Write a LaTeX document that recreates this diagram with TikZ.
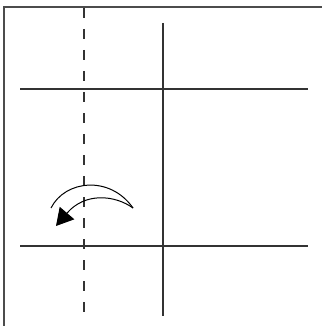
\documentclass[tikz,border=0pt]{standalone}
\usetikzlibrary{arrows.meta}
\begin{document}
\begin{tikzpicture}[x=1pt,y=-1pt,
    frame/.style={line width=1.5pt, draw=black!70},
    gridline/.style={line width=1.2pt, draw=black!80},
    fold/.style={line width=1.3pt, draw=black!80, dash pattern=on 10pt off 11pt},
    turn/.style={line width=1pt}
]
    \useasboundingbox (0,0) rectangle (322,326);
    % outer frame and folds
    \draw [frame] (4,326) -- (4,7) -- (322,7);
    \draw [fold] (84,8) -- (84,317);
    \draw [gridline] (163,23) -- (163,316);
    \draw [gridline] (20,89) -- (308,89);
    \draw [gridline] (20,246) -- (308,246);
    % turning arrow
    \coordinate (left) at (51,208);
    \coordinate (right) at (133,208);
    \coordinate (tip) at (56,226);
    \draw [turn] (left) .. controls (65,180) and (110,175) .. (right);
    \draw [turn, -{Triangle[length=17pt,width=19pt]}] (right) .. controls (115,195) and (85,192) .. (tip);
\end{tikzpicture}
\end{document}
